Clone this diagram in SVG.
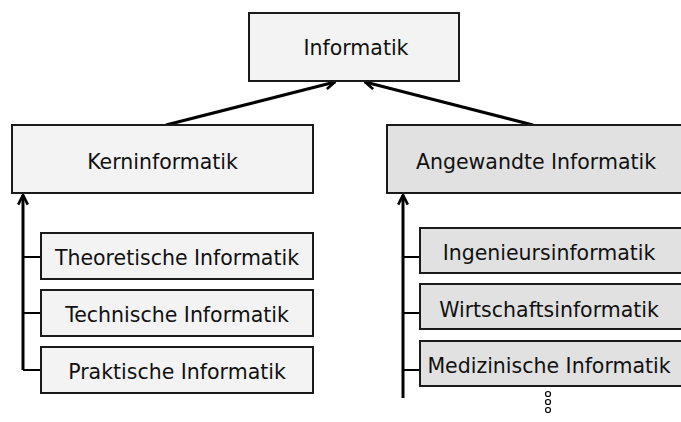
<svg xmlns="http://www.w3.org/2000/svg" width="681" height="422" viewBox="0 0 681 422">
<style>
.box{stroke:#1a1a1a;stroke-width:2}
.l1{fill:#f3f3f3}
.l2{fill:#e1e1e1}
text{font-family:"DejaVu Sans",Verdana,sans-serif;font-size:20.5px;fill:#111;text-anchor:middle}
.con{stroke:#000;stroke-width:3;fill:none}
.br{stroke:#000;stroke-width:2;fill:none}
</style>
<defs>
<marker id="ah" viewBox="0 0 10 10" refX="9" refY="5" markerWidth="4" markerHeight="4" orient="auto" markerUnits="strokeWidth">
<path d="M1,1 L9,5 L1,9" fill="none" stroke="#000" stroke-width="2.2"/>
</marker>
</defs>
<g id="connectors">
<line class="con" x1="166" y1="125" x2="335" y2="82" marker-end="url(#ah)"/>
<line class="con" x1="533" y1="125" x2="365" y2="82" marker-end="url(#ah)"/>
<line class="con" x1="23" y1="370" x2="23" y2="195" marker-end="url(#ah)"/>
<line class="con" x1="403" y1="398" x2="403" y2="195" marker-end="url(#ah)"/>
<line class="br" x1="23" y1="257" x2="41" y2="257"/>
<line class="br" x1="23" y1="313" x2="41" y2="313"/>
<line class="br" x1="23" y1="370" x2="41" y2="370"/>
<line class="br" x1="403" y1="257" x2="420" y2="257"/>
<line class="br" x1="403" y1="313" x2="420" y2="313"/>
<line class="br" x1="403" y1="370" x2="420" y2="370"/>
</g>
<g id="n-informatik"><rect class="box l1" x="249" y="13" width="210" height="68"/><text x="356" y="55">Informatik</text></g>
<g id="n-kern"><rect class="box l1" x="12" y="125" width="301" height="68"/><text x="162.5" y="169">Kerninformatik</text></g>
<g id="n-angewandt"><rect class="box l2" x="387" y="125" width="296" height="68"/><text x="536" y="169">Angewandte Informatik</text></g>
<g id="n-theo"><rect class="box l1" x="41" y="233" width="272" height="46"/><text x="177" y="265">Theoretische Informatik</text></g>
<g id="n-tech"><rect class="box l1" x="41" y="290" width="272" height="46"/><text x="177" y="322">Technische Informatik</text></g>
<g id="n-prak"><rect class="box l1" x="41" y="347" width="272" height="46"/><text x="177" y="379">Praktische Informatik</text></g>
<g id="n-ing"><rect class="box l2" x="420" y="228" width="263" height="45"/><text x="549" y="260">Ingenieursinformatik</text></g>
<g id="n-wirt"><rect class="box l2" x="420" y="284" width="263" height="45"/><text x="549" y="317">Wirtschaftsinformatik</text></g>
<g id="n-med"><rect class="box l2" x="420" y="341" width="263" height="45"/><text x="549" y="373">Medizinische Informatik</text></g>
<g id="dots" fill="#fff" stroke="#000" stroke-width="1.2">
<circle cx="548" cy="394" r="2.5"/><circle cx="548" cy="402" r="2.5"/><circle cx="548" cy="410" r="2.5"/>
</g>
</svg>
